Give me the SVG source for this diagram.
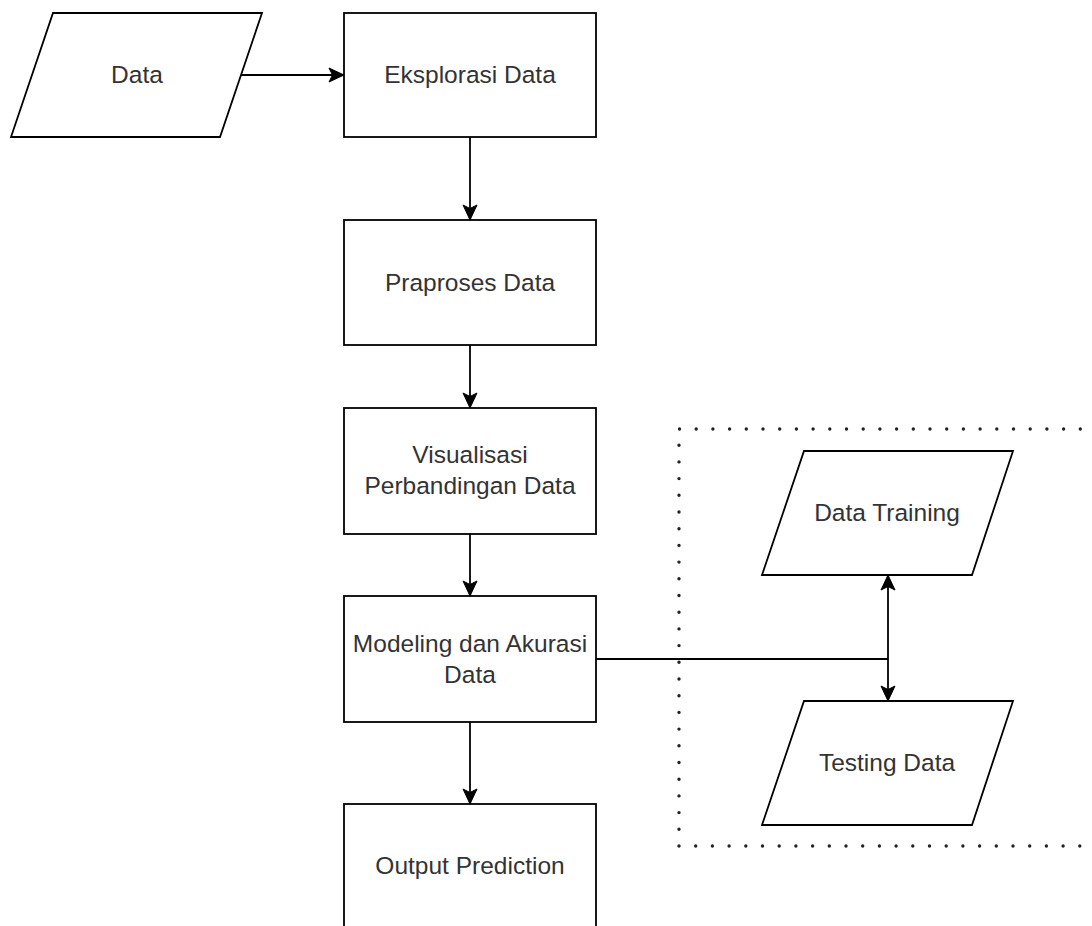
<svg xmlns="http://www.w3.org/2000/svg" width="1092" height="926" viewBox="0 0 1092 926">
<style>
.shape{fill:#fff;stroke:#000;stroke-width:1.8}
.lbl{font-family:"Liberation Sans",Arial,sans-serif;font-size:24.5px;fill:#333;text-anchor:middle}
.edge{fill:none;stroke:#000;stroke-width:1.8}
.dots{fill:none;stroke:#222;stroke-width:3.4;stroke-linecap:round;stroke-dasharray:0 16.7}
</style>
<defs>
<marker id="arr" markerUnits="userSpaceOnUse" markerWidth="18" markerHeight="18" viewBox="0 0 18 18" refX="17" refY="9" orient="auto-start-reverse">
<path d="M2,2 L17,9 L2,16 L5.5,9 z" fill="#000" stroke="#000" stroke-width="1"/>
</marker>
</defs>
<rect width="1092" height="926" fill="#fff"/>
<g id="group-box">
<path class="dots" d="M679,846 L679,429 L1100,429 M679,846 L1100,846"/>
</g>
<g id="connectors">
<path class="edge" d="M241,75 L344,75" marker-end="url(#arr)"/>
<path class="edge" d="M470,137 L470,220" marker-end="url(#arr)"/>
<path class="edge" d="M470,345 L470,408" marker-end="url(#arr)"/>
<path class="edge" d="M470,534 L470,596" marker-end="url(#arr)"/>
<path class="edge" d="M470,722 L470,804" marker-end="url(#arr)"/>
<path class="edge" d="M596,659 L888,659"/>
<path class="edge" d="M888,659 L888,575" marker-end="url(#arr)"/>
<path class="edge" d="M888,659 L888,701" marker-end="url(#arr)"/>
</g>
<g id="node-data">
<polygon class="shape" points="53,13 262,13 220,137 11,137"/>
<text class="lbl" x="137" y="83">Data</text>
</g>
<g id="node-eksplorasi">
<rect class="shape" x="344" y="13" width="252" height="124"/>
<text class="lbl" x="470" y="83">Eksplorasi Data</text>
</g>
<g id="node-praproses">
<rect class="shape" x="344" y="220" width="252" height="125"/>
<text class="lbl" x="470" y="291">Praproses Data</text>
</g>
<g id="node-visualisasi">
<rect class="shape" x="344" y="408" width="252" height="126"/>
<text class="lbl" x="470" y="463">Visualisasi</text>
<text class="lbl" x="470" y="494">Perbandingan Data</text>
</g>
<g id="node-modeling">
<rect class="shape" x="344" y="596" width="252" height="126"/>
<text class="lbl" x="470" y="652">Modeling dan Akurasi</text>
<text class="lbl" x="470" y="683">Data</text>
</g>
<g id="node-output">
<rect class="shape" x="344" y="804" width="252" height="126"/>
<text class="lbl" x="470" y="874">Output Prediction</text>
</g>
<g id="node-training">
<polygon class="shape" points="804,451 1013,451 972,575 762,575"/>
<text class="lbl" x="887" y="521">Data Training</text>
</g>
<g id="node-testing">
<polygon class="shape" points="804,701 1013,701 972,825 762,825"/>
<text class="lbl" x="887" y="771">Testing Data</text>
</g>
</svg>
